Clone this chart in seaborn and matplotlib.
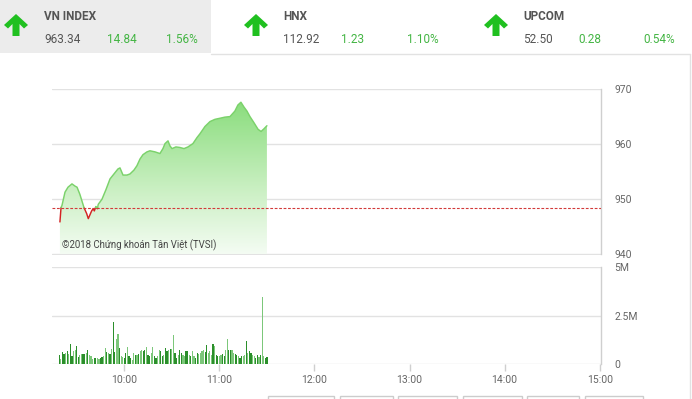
import numpy as np
import pandas as pd
import matplotlib
matplotlib.use("Agg")
import matplotlib.pyplot as plt
import seaborn as sns
from matplotlib.patches import Rectangle, Polygon
from matplotlib.lines import Line2D
from matplotlib.colors import LinearSegmentedColormap

sns.set_theme(style="white")
plt.rcParams['font.family'] = ['Roboto', 'DejaVu Sans']

# ---------------- data ----------------
index_names = ["VN INDEX", "HNX", "UPCOM"]
index_values = ["963.34", "112.92", "52.50"]
index_changes = ["14.84", "1.23", "0.28"]
index_pcts = ["1.56%", "1.10%", "0.54%"]

ref_close = 948.50

# minutes after 9:00
price_minutes = [19.4, 20.1, 20.7, 22.6, 24.5, 27.0, 28.9, 30.2, 32.0, 34.6,
                 36.3, 37.3, 39.4, 40.4, 41.1, 42.1, 43.0, 43.6, 45.9, 48.5,
                 51.0, 53.5, 56.0, 57.3, 59.2, 61.7, 63.6, 66.1, 68.0, 69.9,
                 71.8, 74.3, 76.2, 79.4, 82.5, 84.4, 85.7, 87.6, 88.8, 90.1,
                 92.6, 95.1, 97.7, 100.2, 103.3, 105.9, 107.8, 110.9, 114.1, 117.2,
                 120.4, 123.5, 126.7, 129.8, 131.7, 133.6, 135.6, 137.4, 139.3, 141.8,
                 144.4, 146.3, 148.2, 150.0]
price_values = [945.9, 948.5, 948.9, 951.3, 952.2, 952.8, 952.4, 952.2, 950.9, 948.5,
                947.4, 946.5, 947.9, 948.3, 947.9, 948.7, 948.3, 949.1, 950.0, 951.8,
                953.7, 954.6, 955.5, 955.7, 954.4, 954.4, 954.6, 955.3, 956.1, 957.3,
                958.1, 958.6, 958.8, 958.6, 958.3, 959.2, 960.1, 960.6, 959.7, 959.2,
                959.5, 959.4, 959.2, 959.5, 960.1, 961.2, 961.9, 963.2, 964.1, 964.5,
                964.7, 964.9, 965.0, 966.0, 967.1, 967.6, 966.7, 966.0, 965.0, 963.9,
                962.7, 962.3, 962.8, 963.34]

vol_minutes = list(range(19, 151))
vol_values_m = [
    0.45, 0.25, 0.60, 0.50, 0.55, 0.65, 0.50, 1.05, 0.40, 0.65,
    0.70, 0.95, 0.35, 0.45, 0.50, 0.50, 0.50, 0.55, 0.70, 0.45,
    0.40, 0.25, 0.30, 0.30, 0.30, 0.28, 0.30, 0.35, 0.40, 0.85,
    0.60, 0.55, 0.50, 0.75, 2.15, 0.60, 1.30, 1.55, 0.80, 0.40,
    0.35, 0.30, 0.55, 0.89, 0.39, 0.30, 0.21, 0.57, 0.48, 0.48,
    0.53, 0.66, 0.74, 0.66, 0.74, 0.89, 0.48, 0.39, 0.57, 0.89,
    0.39, 0.30, 0.39, 0.71, 0.66, 0.39, 0.48, 0.83, 0.66, 0.74,
    0.78, 0.78, 1.49, 0.57, 0.30, 0.48, 0.71, 0.57, 0.48, 0.39,
    0.66, 0.66, 0.48, 0.39, 0.66, 0.39, 0.30, 0.57, 0.50, 0.57,
    0.66, 0.71, 0.60, 0.96, 0.57, 0.66, 0.48, 1.01, 0.92, 0.48,
    0.43, 0.39, 0.48, 0.53, 0.39, 0.74, 1.31, 0.74, 0.74, 0.74,
    0.57, 0.53, 0.48, 0.39, 0.30, 0.39, 0.39, 0.48, 1.19, 0.57,
    0.66, 0.57, 0.48, 0.39, 0.30, 0.48, 0.35, 0.45, 3.45, 0.39,
    0.30, 0.35]
vol_dir = ("duddududdu" "udduuddudu" "uudduudduu" "dududduudu" "uddudduudu"
           "duuddudduu" "dduudduddu" "duuddudduu" "dduduudduu" "uudduuudud"
           "duudduuddu" "uddudduudu" "dduudduduu" "dd")

xtick_minutes = [60, 120, 180, 240, 300, 360]
xtick_labels = ["10:00", "11:00", "12:00", "13:00", "14:00", "15:00"]
price_ticks = [940, 950, 960, 970]
vol_ticks = [0, 2.5, 5]
vol_tick_labels = ["0", "2.5M", "5M"]

# ---------------- figure ----------------
W, H = 692, 399
fig = plt.figure(figsize=(W / 100, H / 100), dpi=100)
fig.patch.set_facecolor("white")

def fx(px):
    return px / W

def fy(py):
    return 1 - py / H

XMIN, XMAX = 14.4, 360.8
GRID = "#e2e2e2"
SPINE = "#cfcfcf"
LAB = "#666666"

ax1 = fig.add_axes([fx(52), fy(254.5), fx(601) - fx(52), (254.5 - 89) / H])
ax2 = fig.add_axes([fx(52), fy(364), fx(601) - fx(52), (364 - 267) / H])

# --- gradient area under the price line ---
fill = ax1.fill_between(price_minutes, price_values, 940, color="none", lw=0)
cmap = LinearSegmentedColormap.from_list(
    "g", [(0.0, "#f4fcf3"), (0.35, "#cff1c8"), (1.0, "#80da72")])
grad = np.linspace(0, 1, 256).reshape(-1, 1)
im = ax1.imshow(grad, extent=[XMIN, XMAX, 940, 970], origin="lower",
                aspect="auto", cmap=cmap, zorder=1)
im.set_clip_path(fill.get_paths()[0], transform=ax1.transData)

# --- price line split at reference ---
rows = []
seg = 0
t, v = price_minutes, price_values
side = "up" if v[0] >= ref_close else "down"
rows.append((t[0], v[0], seg, side))
for i in range(1, len(t)):
    s_new = "up" if v[i] >= ref_close else "down"
    if s_new != side:
        f = (ref_close - v[i - 1]) / (v[i] - v[i - 1])
        tc = t[i - 1] + f * (t[i] - t[i - 1])
        rows.append((tc, ref_close, seg, side))
        seg += 1
        side = s_new
        rows.append((tc, ref_close, seg, side))
    rows.append((t[i], v[i], seg, side))
line_df = pd.DataFrame(rows, columns=["t", "v", "seg", "side"])
sns.lineplot(data=line_df, x="t", y="v", hue="side", units="seg",
             estimator=None, sort=False, legend=False, ax=ax1,
             palette={"up": "#7bd26b", "down": "#d42424"}, linewidth=1.05,
             zorder=3)

ax1.axhline(ref_close, color="#d23a3a", lw=0.8, ls=(0, (2.5, 1.5)), zorder=4)

ax1.set_xlim(XMIN, XMAX)
ax1.set_ylim(940, 970)
ax1.set_xticks([])
ax1.set_yticks(price_ticks)
ax1.set_yticklabels([str(p) for p in price_ticks])
ax1.yaxis.tick_right()
ax1.tick_params(axis="y", length=0, pad=9.5, labelsize=7.5, labelcolor=LAB)
ax1.grid(axis="y", color=GRID, lw=1)
ax1.set_axisbelow(True)
for s in ["left", "top", "bottom"]:
    ax1.spines[s].set_visible(False)
ax1.spines["right"].set_color(SPINE)
ax1.spines["right"].set_linewidth(1)
ax1.set_xlabel("")
ax1.set_ylabel("")

# --- volume bars ---
vol_df = pd.DataFrame({"minute": vol_minutes, "vol": vol_values_m,
                       "dir": list(vol_dir)})
sns.barplot(data=vol_df, x="minute", y="vol", hue="dir", native_scale=True,
            dodge=False, width=0.75, legend=False, ax=ax2, errorbar=None,
            saturation=1, palette={"u": "#7cc77a", "d": "#2b8f2b"},
            linewidth=0)
ax2.set_xlim(XMIN, XMAX)
ax2.set_ylim(0, 5)
ax2.set_yticks(vol_ticks)
ax2.set_yticklabels(vol_tick_labels)
ax2.yaxis.tick_right()
ax2.tick_params(axis="y", length=0, pad=9.5, labelsize=7.5, labelcolor=LAB)
ax2.set_xticks(xtick_minutes)
ax2.set_xticklabels(xtick_labels)
ax2.tick_params(axis="x", length=5, width=1, color=SPINE, pad=3,
                labelsize=7.5, labelcolor=LAB, bottom=True)
ax2.grid(axis="y", color=GRID, lw=1)
ax2.set_axisbelow(True)
for s in ["left", "top", "bottom"]:
    ax2.spines[s].set_visible(False)
ax2.spines["right"].set_color(SPINE)
ax2.spines["right"].set_linewidth(1)
ax2.set_xlabel("")
ax2.set_ylabel("")

# --- copyright ---
fig.text(fx(62), fy(245.5), "©2018 Chứng khoán Tân Việt (TVSI)", fontsize=6.9,
         color="#444444", va="center", ha="left")

# --- header ---
fig.patches.append(Rectangle((0, fy(53)), fx(211), 53 / H, transform=fig.transFigure,
                             facecolor="#ececec", edgecolor="none", zorder=0))
fig.lines.append(Line2D([fx(211), fx(690)], [fy(54), fy(54)], transform=fig.transFigure,
                        color="#e2e2e2", lw=1))
fig.lines.append(Line2D([fx(690), fx(690)], [fy(54), fy(399)], transform=fig.transFigure,
                        color="#e2e2e2", lw=1))

arrow_shape = [(0, -11), (12, 0), (8, 3.5), (3.5, -1), (3.5, 11), (-3.5, 11),
               (-3.5, -1), (-8, 3.5), (-12, 0)]
header_x = [(16, 44, 107, 166), (256, 283, 341, 407), (496, 523, 578, 643)]
for (ax_c, xn, xc, xp), name, val, chg, pct in zip(header_x, index_names,
                                                   index_values, index_changes,
                                                   index_pcts):
    pts = [(fx(ax_c + dx), fy(25 + dy)) for dx, dy in arrow_shape]
    fig.patches.append(Polygon(pts, closed=True, transform=fig.transFigure,
                               facecolor="#20c020", edgecolor="none"))
    fig.text(fx(xn), fy(16), name, fontsize=8.5, fontweight="bold",
             color="#555555", va="center", ha="left")
    fig.text(fx(xn), fy(39.5), val, fontsize=8.5, color="#555555",
             va="center", ha="left")
    fig.text(fx(xc), fy(39.5), chg, fontsize=8.5, color="#44b544",
             va="center", ha="left")
    fig.text(fx(xp), fy(39.5), pct, fontsize=8.5, color="#44b544",
             va="center", ha="left")

# --- partially visible buttons at the bottom ---
for x0, x1 in [(268, 334), (340, 393), (398, 457), (463, 522), (527, 579), (585, 643)]:
    fig.patches.append(Rectangle((fx(x0), fy(405)), fx(x1 - x0), 9 / H,
                                 transform=fig.transFigure, facecolor="none",
                                 edgecolor="#cccccc", lw=1))

fig.savefig("out.png", dpi=100)
